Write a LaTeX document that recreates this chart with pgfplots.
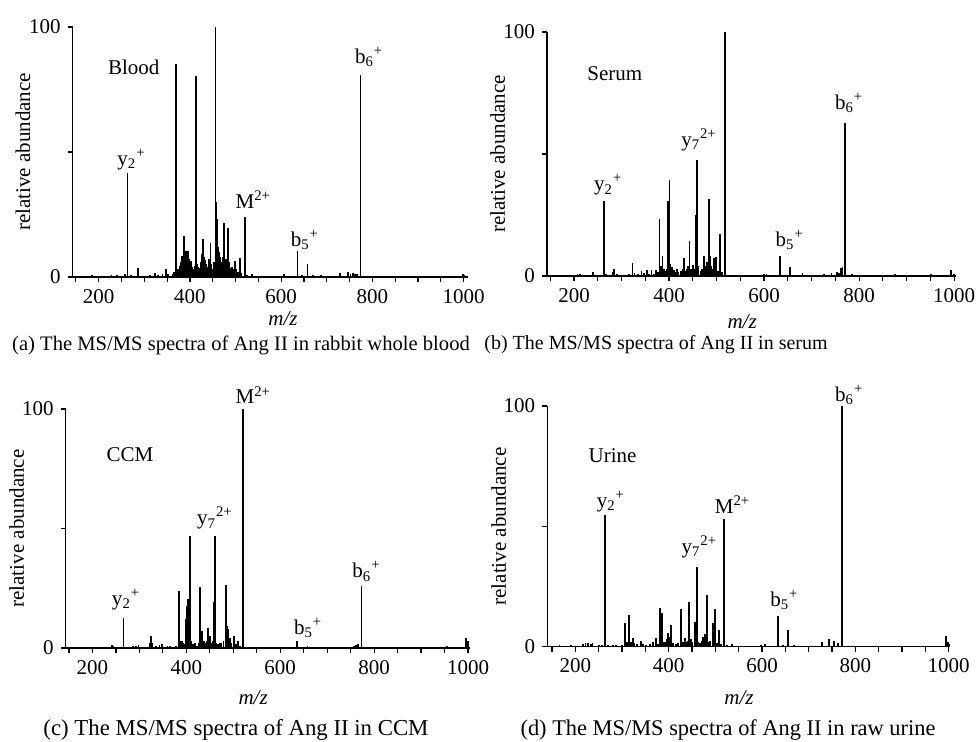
\documentclass[border=0pt]{standalone}
\usepackage{pgfplots}
\pgfplotsset{compat=1.18}
\usepackage{fontspec}
\setmainfont{Liberation Serif}
\newcommand{\fs}{\fontsize{10.5}{12}\selectfont}
\pgfplotsset{
  spec/.style={
    scale only axis, anchor=south west,
    axis x line*=bottom, axis y line*=left,
    xmin=143, ymin=0, ymax=100,
    xtick={200,400,600,800,1000},
    minor xtick={150,250,300,350,450,500,550,650,700,750,850,900,950},
    ytick={0,50,100}, yticklabels={0,,100},
    tick align=outside, major tick length=2.5pt, minor tick length=2.5pt,
    every tick/.style={black, line width=0.6pt},
    axis line style={line width=0.8pt},
    tick label style={font=\fs},
    label style={font=\fs},
    /pgf/number format/assume math mode=true,
    /pgf/number format/1000 sep={},
    clip=false,
    ylabel={relative abundance},
    xlabel={\textit{m/z}},
  },
  peaks/.style={ycomb, black, line width=0.9pt, mark=none},
}
\begin{document}
\begin{tikzpicture}
\useasboundingbox (0pt,0pt) rectangle (488pt,371pt);
% (a) Blood
\begin{axis}[spec, at={(36.35pt,232.5pt)}, width=197.7pt, height=125pt, xmax=1010,
  ylabel style={at={(axis description cs:-0.126,0.5)}, anchor=center},
  xlabel style={at={(axis description cs:0.532,-0.168)}, anchor=center}]
\addplot[peaks] coordinates {(160,0.5) (185,0.6) (210,0.5) (228,0.8) (240,0.6) (257,1.0) (263,41.5) (270,0.6) (287,3.6) (300,0.5) (312,0.8) (323,1.5) (330,0.8) (340,1.2) (348,3.0) (352,1.2) (362,1.0) (366,2.0) (370,85.3) (374,3) (377,4.5) (380,6) (383,8.5) (385,7.3) (387,16.3) (389,9) (391,10.5) (393,8) (395,10.2) (397,9.5) (399,7) (401,5) (403,6.5) (405,4) (408,3) (410,4.5) (413,80.4) (416,5) (419,4) (422,3.5) (425,6) (427,9) (429,15.2) (431,8) (433,6.7) (435,5) (437,3.5) (440,4) (442,7) (445,13.6) (447,5) (449,3) (452,6) (456,100) (458,30) (460,23) (462,12) (464,10) (466,8) (468,5) (470,6) (472,8) (474,21.5) (476,6) (478,4) (480,7) (483,19.5) (485,6) (487,4) (490,3.5) (493,4) (496,3) (499,6.4) (502,3) (505,2) (510,7.7) (513,1.5) (520,24) (525,0.8) (537,1.3) (560,0.5) (580,0.4) (607,1.2) (620,0.4) (636,10.4) (645,0.6) (658,5) (670,0.6) (688,0.8) (705,0.5) (729,1.5) (746,2) (752,1.2) (758,1.5) (762,1.2) (766,1.0) (774,80.7) (790,0.4) (850,0.4) (920,0.3) (999,1.2) (1001,0.8)};
\node[font=\fs] at (axis cs:277,84) {Blood};
\node[font=\fs] at (axis cs:272,47) {y\textsubscript{2}\textsuperscript{+}};
\node[font=\fs] at (axis cs:539,31) {M\textsuperscript{2+}};
\node[font=\fs] at (axis cs:652,14.8) {b\textsubscript{5}\textsuperscript{+}};
\node[font=\fs] at (axis cs:793,88) {b\textsubscript{6}\textsuperscript{+}};
\end{axis}
% (b) Serum
\begin{axis}[spec, at={(273.5pt,233pt)}, width=204.5pt, height=122pt, xmax=1004,
  ylabel style={at={(axis description cs:-0.1206,0.5)}, anchor=center},
  xlabel style={at={(axis description cs:0.477,-0.189)}, anchor=center}]
\addplot[peaks] coordinates {(170,0.4) (200,0.6) (207,1.0) (212,0.8) (225,0.6) (239,1.8) (250,0.5) (263,30.9) (268,0.8) (281,1.8) (284,2.7) (290,0.8) (305,0.6) (315,1.0) (323,5.5) (327,1.2) (335,0.8) (342,2.2) (348,1.2) (354,2.5) (358,1.0) (363,2.5) (368,1.0) (372,2.5) (376,1.5) (380,23.4) (383,4) (386,8.3) (389,3) (392,2) (395,3) (398,30.6) (401,39.3) (403,5) (406,3.8) (410,2.5) (413,1.5) (416,2.7) (420,1.5) (425,2) (429,3) (432,7.3) (435,2) (438,3) (440,4) (443,14.5) (446,3) (448,2.5) (450,4.5) (453,3) (456,24.8) (459,47.6) (462,4) (466,2) (470,3) (473,8.2) (476,4) (479,5.9) (482,4) (484,31.6) (486,8) (489,4) (492,3) (495,7.3) (499,7.7) (503,2) (507,17.2) (511,1.5) (517,100) (525,0.5) (540,0.5) (560,0.4) (578,0.4) (599,1) (605,1) (615,0.5) (633,8.2) (640,0.5) (655,3.6) (668,0.5) (681,1.1) (700,0.4) (726,0.8) (742,1.4) (754,1.8) (758,1.2) (762,3.3) (765,3.6) (770.5,62.9) (785,0.7) (820,0.4) (876,0.8) (910,0.4) (951,0.7) (994,2.5) (999,0.8)};
\node[font=\fs] at (axis cs:285.6,82.9) {Serum};
\node[font=\fs] at (axis cs:272,37.3) {y\textsubscript{2}\textsuperscript{+}};
\node[font=\fs] at (axis cs:463,55.8) {y\textsubscript{7}\textsuperscript{2+}};
\node[font=\fs] at (axis cs:654,14.8) {b\textsubscript{5}\textsuperscript{+}};
\node[font=\fs] at (axis cs:779,70.9) {b\textsubscript{6}\textsuperscript{+}};
\end{axis}
% (c) CCM
\begin{axis}[spec, at={(32.85pt,47pt)}, width=202pt, height=119.5pt, xmax=1003.6,
  ylabel style={at={(axis description cs:-0.121,0.5)}, anchor=center},
  xlabel style={at={(axis description cs:0.464,-0.209)}, anchor=center}]
\addplot[peaks] coordinates {(165,0.4) (190,0.6) (205,0.5) (220,0.6) (241,1.4) (245,0.8) (258,0.5) (266,12.4) (275,0.5) (287,1) (292,0.8) (298,1.2) (310,0.5) (322,2) (325,4.9) (328,2) (335,0.8) (343,1.2) (347.5,1.5) (355,0.6) (360,0.8) (365,1) (372,0.6) (378,1) (384.4,24) (387,3) (390,2.8) (393,2) (396,1.5) (399,12) (400.7,17.4) (404.3,20.5) (407.8,47) (410,3) (414,1.5) (418.4,2) (422,1) (426,2) (429,25.5) (432,6) (434,7.1) (437,3) (440,2) (443,3) (446.8,8.4) (450,4.9) (453,2) (456,3) (458,19.2) (461,46.7) (464,2) (468,1.5) (472,2) (475,2) (479,3) (484.4,26.2) (486,9) (488,7.9) (490,4) (493,4.2) (496,2) (501.4,5.2) (505,1.5) (509.9,2.8) (514,1) (520.6,100) (530,0.4) (550,0.4) (580,0.3) (602.8,0.6) (620,0.4) (636,2.8) (645,0.4) (658,1) (684,0.6) (700,0.3) (735,0.4) (750,0.6) (757,1) (762,1.2) (766,1.7) (773,26) (785,0.4) (830,0.3) (900,0.3) (955,1) (996.5,4.2) (1000,2.8)};
\node[font=\fs] at (axis cs:280,80.8) {CCM};
\node[font=\fs] at (axis cs:271.6,20.2) {y\textsubscript{2}\textsuperscript{+}};
\node[font=\fs] at (axis cs:461,54.3) {y\textsubscript{7}\textsuperscript{2+}};
\node[font=\fs] at (axis cs:542.5,105.8) {M\textsuperscript{2+}};
\node[font=\fs] at (axis cs:659.6,8.4) {b\textsubscript{5}\textsuperscript{+}};
\node[font=\fs] at (axis cs:783.7,32) {b\textsubscript{6}\textsuperscript{+}};
\end{axis}
% (d) Urine
\begin{axis}[spec, at={(273.65pt,47.65pt)}, width=201.4pt, height=120.3pt, xmin=140, xmax=1003,
  ylabel style={at={(axis description cs:-0.1207,0.5)}, anchor=center},
  xlabel style={at={(axis description cs:0.476,-0.213)}, anchor=center}]
\addplot[peaks] coordinates {(166,0.7) (190,0.5) (200,0.4) (217,1.2) (222,1.4) (228,1.6) (233,1.2) (237,1.4) (250,0.6) (258,0.8) (264.3,54.6) (270,0.6) (280,0.8) (288,0.6) (300,0.5) (307,9.7) (311,2) (315.7,13.2) (319,2) (323,3.5) (327,1.5) (333,1) (340.7,2.5) (345,1) (352,0.8) (360,1) (365.7,1.8) (372.9,3.7) (377,1) (380.7,15.9) (383,3) (385.7,13.9) (389,2) (393,2) (395.5,3) (397.9,5.5) (401.4,4.2) (405.7,9) (410,1.5) (415,1.2) (420,1.5) (426.4,15.5) (430,2) (435,3.5) (438,2) (441,2.5) (444.3,18.7) (448,3) (451,2) (456.4,10.1) (460,33.2) (464,2) (468,1.5) (471,2.5) (474.3,4.2) (477.9,5.1) (481.4,21.3) (485,2) (489,2.5) (494.3,9.7) (499.3,15.8) (503,1.5) (508.6,6.9) (513,1) (517.9,53) (525,0.5) (535,1.2) (550,0.4) (575,0.3) (597,0.5) (607,1.1) (620,0.4) (634.3,12.9) (645,0.5) (656.4,6.9) (669,0.6) (680,0.3) (700,0.3) (728.6,1.8) (744.3,3) (753.6,2.5) (762,1.7) (771.4,100) (780,0.3) (850,0.3) (920,0.3) (994.3,4.4) (997.9,2.1) (1000,1)};
\node[font=\fs] at (axis cs:280,79.6) {Urine};
\node[font=\fs] at (axis cs:276.4,60.2) {y\textsubscript{2}\textsuperscript{+}};
\node[font=\fs] at (axis cs:537,58.9) {M\textsuperscript{2+}};
\node[font=\fs] at (axis cs:465.7,41.6) {y\textsubscript{7}\textsuperscript{2+}};
\node[font=\fs] at (axis cs:647.9,19.4) {b\textsubscript{5}\textsuperscript{+}};
\node[font=\fs] at (axis cs:787,104.6) {b\textsubscript{6}\textsuperscript{+}};
\end{axis}
% captions
\node[font=\fontsize{10.3}{12}\selectfont] at (120.5pt,198.5pt) {(a) The MS/MS spectra of Ang II in rabbit whole blood};
\node[font=\fontsize{10}{12}\selectfont] at (328pt,198.5pt) {(b) The MS/MS spectra of Ang II in serum};
\node[font=\fontsize{11.4}{13}\selectfont] at (118pt,6pt) {(c) The MS/MS spectra of Ang II in CCM};
\node[font=\fontsize{11.2}{13}\selectfont] at (364pt,6pt) {(d) The MS/MS spectra of Ang II in raw urine};
\end{tikzpicture}
\end{document}
